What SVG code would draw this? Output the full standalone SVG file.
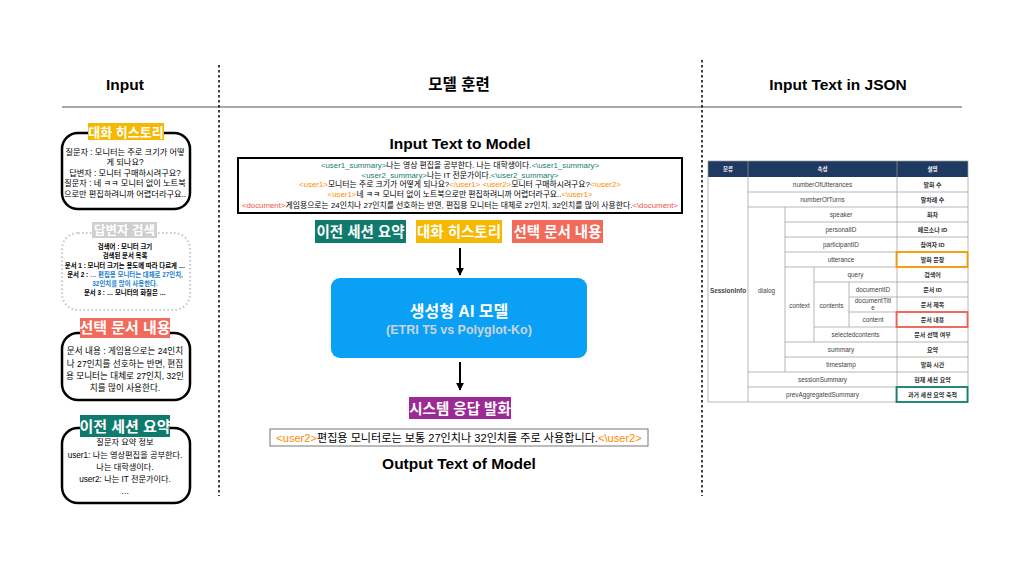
<svg xmlns="http://www.w3.org/2000/svg" width="1024" height="576" viewBox="0 0 1024 576">
<style>
text{font-family:"Liberation Sans","Noto Sans CJK KR",sans-serif;}
.hd{font-size:15.5px;font-weight:bold;fill:#000;text-anchor:middle;}
.lbl{font-weight:bold;fill:#fff;text-anchor:middle;}
.box{fill:#fff;stroke:#000;stroke-width:2.5;}
.t1{font-size:8.2px;fill:#000;text-anchor:middle;}
.t2{font-size:6.4px;font-weight:bold;fill:#000;text-anchor:middle;}
.t3{font-size:8.6px;fill:#000;text-anchor:middle;}
.in{font-size:7.85px;fill:#000;text-anchor:middle;}
.tl{fill:#12806E;}
.or{fill:#FF8C00;}
.rd{fill:#F0533F;}
.tb{font-size:6.4px;fill:#444;text-anchor:middle;}
.tk{font-size:6px;fill:#333;font-weight:bold;text-anchor:middle;}
.th{font-size:5.5px;fill:#fff;font-weight:bold;text-anchor:middle;}
.gl{stroke:#9a9a9a;stroke-width:0.7;fill:none;}
.dl{stroke:#000;stroke-width:1.5;stroke-dasharray:2.5 2.5;}
.ar{stroke:#000;stroke-width:2;marker-end:url(#ah);}
</style>
<defs>
<marker id="ah" viewBox="0 0 10 10" refX="9" refY="5" markerWidth="4" markerHeight="4" orient="auto"><path d="M0,0 L10,5 L0,10 z" fill="#000"/></marker>
</defs>
<rect width="1024" height="576" fill="#fff"/>

<g id="headers">
<text class="hd" x="125" y="90">Input</text>
<text class="hd" x="459" y="90">모델 훈련</text>
<text class="hd" x="838" y="90">Input Text in JSON</text>
<line x1="62" y1="107" x2="962" y2="107" stroke="#555" stroke-width="1"/>
<line class="dl" x1="219" y1="65" x2="219" y2="496"/>
<line class="dl" x1="702" y1="60" x2="702" y2="496"/>
</g>

<g id="left-history">
<rect class="box" x="62" y="133" width="128" height="76" rx="16"/>
<rect x="88" y="123" width="76" height="17" fill="#F6B800"/>
<text class="lbl" x="126" y="136.5" font-size="13">대화 히스토리</text>
<text class="t1" x="125" y="155">질문자 : 모니터는 주로 크기가 어떻</text>
<text class="t1" x="125" y="165">게 되나요?</text>
<text class="t1" x="125" y="175.5">답변자 : 모니터 구매하시려구요?</text>
<text class="t1" x="125" y="186">질문자 : 네 ㅋㅋ 모니터 없이 노트북</text>
<text class="t1" x="125" y="196.5">으로만 편집하려니까 어렵더라구요..</text>
</g>

<g id="left-search">
<rect x="62" y="233" width="128" height="77" rx="16" fill="#fff" stroke="#c8c8c8" stroke-width="2.2" stroke-dasharray="1.5 2.5"/>
<rect x="92" y="222" width="65" height="16" fill="#CFCFCF"/>
<text class="lbl" x="124.5" y="235" font-size="12.5">답변자 검색</text>
<text class="t2" x="125" y="249">검색어 : 모니터 크기</text>
<text class="t2" x="125" y="258">검색된 문서 목록</text>
<text class="t2" x="125" y="267.5">문서 1 : 모니터 크기는 용도에 따라 다르게 …</text>
<text class="t2" x="125" y="276.5">문서 2 : <tspan fill="#1A7FD0">… 편집용 모니터는 대체로 27인치,</tspan></text>
<text class="t2" x="125" y="285.5" style="fill:#1A7FD0">32인치를 많이 사용한다.</text>
<text class="t2" x="125" y="295">문서 3 : … 모니터의 화질은 …</text>
</g>

<g id="left-document">
<rect class="box" x="62" y="333" width="128" height="67" rx="16"/>
<rect x="80" y="318" width="90" height="20" fill="#F26A5A"/>
<text class="lbl" x="125" y="333" font-size="15">선택 문서 내용</text>
<text class="t3" x="125" y="354">문서 내용 : 게임용으로는 24인치</text>
<text class="t3" x="125" y="366.5">나 27인치를 선호하는 반면, 편집</text>
<text class="t3" x="125" y="379">용 모니터는 대체로 27인치, 32인</text>
<text class="t3" x="125" y="391">치를 많이 사용한다.</text>
</g>

<g id="left-summary">
<rect class="box" x="62" y="428" width="128" height="75" rx="16"/>
<rect x="80" y="415" width="90" height="22" fill="#0F7B6C"/>
<text class="lbl" x="125" y="431.5" font-size="15">이전 세션 요약</text>
<text class="t1" x="125" y="445" font-size="9">질문자 요약 정보</text>
<text class="t1" x="125" y="458" font-size="9">user1: 나는 영상편집을 공부한다.</text>
<text class="t1" x="125" y="470" font-size="9">나는 대학생이다.</text>
<text class="t1" x="125" y="481.5" font-size="9">user2: 나는 IT 전문가이다.</text>
<text class="t1" x="125" y="494" font-size="9">…</text>
</g>

<g id="input-text">
<text class="hd" x="460" y="149" font-size="15">Input Text to Model</text>
<rect x="238" y="158" width="444" height="55" fill="#fff" stroke="#000" stroke-width="2"/>
<text class="in" x="460" y="167.5"><tspan class="tl">&lt;user1_summary&gt;</tspan>나는 영상 편집을 공부한다. 나는 대학생이다.<tspan class="tl">&lt;\user1_summary&gt;</tspan></text>
<text class="in" x="460" y="177.5"><tspan class="tl">&lt;user2_summary&gt;</tspan>나는 IT 전문가이다.<tspan class="tl">&lt;\user2_summary&gt;</tspan></text>
<text class="in" x="460" y="187"><tspan class="or">&lt;user1&gt;</tspan>모니터는 주로 크기가 어떻게 되나요?<tspan class="or">&lt;/user1&gt;</tspan> <tspan class="or">&lt;user2&gt;</tspan>모니터 구매하시려구요?<tspan class="or">&lt;\user2&gt;</tspan></text>
<text class="in" x="460" y="197"><tspan class="or">&lt;user1&gt;</tspan>네 ㅋㅋ 모니터 없이 노트북으로만 편집하려니까 어렵더라구요..<tspan class="or">&lt;\user1&gt;</tspan></text>
<text class="in" x="460" y="207.5"><tspan class="rd">&lt;document&gt;</tspan>게임용으로는 24인치나 27인치를 선호하는 반면, 편집용 모니터는 대체로 27인치, 32인치를 많이 사용한다.<tspan class="rd">&lt;\document&gt;</tspan></text>
</g>

<g id="input-tags">
<rect x="315" y="220" width="91" height="23" fill="#0F7B6C"/>
<text class="lbl" x="360.5" y="237" font-size="14.5">이전 세션 요약</text>
<rect x="416" y="220" width="86" height="23" fill="#F6B800"/>
<text class="lbl" x="459" y="237" font-size="14.5">대화 히스토리</text>
<rect x="512" y="220" width="91" height="23" fill="#F26A5A"/>
<text class="lbl" x="557.5" y="237" font-size="14.5">선택 문서 내용</text>
</g>

<g id="model">
<rect x="331" y="278" width="256" height="80" rx="9" fill="#0AA0F5"/>
<text class="lbl" x="459" y="317" font-size="16">생성형 AI 모델</text>
<text x="459" y="334" font-size="12.5" font-weight="bold" fill="#CBD5DE" text-anchor="middle">(ETRI T5 vs Polyglot-Ko)</text>
</g>

<g id="response">
<rect x="409" y="397" width="102" height="22" fill="#9B2A94"/>
<text class="lbl" x="460" y="413.5" font-size="14.5">시스템 응답 발화</text>
<rect x="270" y="429" width="378" height="17" fill="#fff" stroke="#777" stroke-width="1"/>
<text x="459" y="441.5" font-size="11.1" text-anchor="middle" fill="#000"><tspan class="or">&lt;user2&gt;</tspan>편집용 모니터로는 보통 27인치나 32인치를 주로 사용합니다.<tspan class="or">&lt;\user2&gt;</tspan></text>
<text class="hd" x="459" y="469">Output Text of Model</text>
</g>

<g id="connectors">
<line class="ar" x1="460" y1="248" x2="460" y2="275"/>
<line class="ar" x1="460" y1="362" x2="460" y2="390"/>
</g>

<g id="json-table">
<rect x="708" y="161" width="260" height="16" fill="#1F3A60"/>
<text class="th" x="728" y="171">분류</text>
<text class="th" x="822.5" y="171">속성</text>
<text class="th" x="932.5" y="171">설명</text>
<rect class="gl" x="708" y="161" width="260" height="241"/>
<line class="gl" x1="748" y1="161" x2="748" y2="402"/>
<line class="gl" x1="897" y1="161" x2="897" y2="402"/>
<line class="gl" x1="785" y1="207" x2="785" y2="372"/>
<line class="gl" x1="814" y1="267" x2="814" y2="342"/>
<line class="gl" x1="849" y1="282" x2="849" y2="327"/>
<path class="gl" d="M748,192H968M748,207H968M785,222H968M785,237H968M785,252H968M785,267H968M814,282H968M849,297H968M849,312H968M814,327H968M785,342H968M785,357H968M748,372H968M748,387H968"/>
<text class="tb" x="728" y="292.5" font-weight="bold" font-size="5.8">SessionInfo</text>
<text class="tb" x="766.5" y="292.5">dialog</text>
<text class="tb" x="799.5" y="307.5">context</text>
<text class="tb" x="831.5" y="307.5">contents</text>
<text class="tb" x="822.5" y="187">numberOfUtterances</text>
<text class="tb" x="822.5" y="202">numberOfTurns</text>
<text class="tb" x="841" y="217">speaker</text>
<text class="tb" x="841" y="232">personalID</text>
<text class="tb" x="841" y="247">participantID</text>
<text class="tb" x="841" y="262">utterance</text>
<text class="tb" x="855.5" y="277">query</text>
<text class="tb" x="873" y="292">documentID</text>
<text class="tb" x="873" y="303">documentTitl</text>
<text class="tb" x="873" y="310">e</text>
<text class="tb" x="873" y="322">content</text>
<text class="tb" x="855.5" y="337">selectedcontents</text>
<text class="tb" x="841" y="352">summary</text>
<text class="tb" x="841" y="367">timestamp</text>
<text class="tb" x="822.5" y="382">sessionSummary</text>
<text class="tb" x="822.5" y="397">prevAggregatedSummary</text>
<text class="tk" x="932.5" y="187">발화 수</text>
<text class="tk" x="932.5" y="202">말차례 수</text>
<text class="tk" x="932.5" y="217">화자</text>
<text class="tk" x="932.5" y="232">페르소나 ID</text>
<text class="tk" x="932.5" y="247">참여자 ID</text>
<text class="tk" x="932.5" y="262">발화 문장</text>
<text class="tk" x="932.5" y="277">검색어</text>
<text class="tk" x="932.5" y="292">문서 ID</text>
<text class="tk" x="932.5" y="307">문서 제목</text>
<text class="tk" x="932.5" y="322">문서 내용</text>
<text class="tk" x="932.5" y="337">문서 선택 여부</text>
<text class="tk" x="932.5" y="352">요약</text>
<text class="tk" x="932.5" y="367">발화 시간</text>
<text class="tk" x="932.5" y="382">현재 세션 요약</text>
<text class="tk" x="932.5" y="397">과거 세션 요약 축적</text>
<rect x="896.5" y="252" width="71" height="15" fill="none" stroke="#F59A00" stroke-width="1.8"/>
<rect x="896.5" y="312" width="71" height="15" fill="none" stroke="#F0604F" stroke-width="1.8"/>
<rect x="896.5" y="387" width="71" height="15" fill="none" stroke="#137F6A" stroke-width="1.8"/>
</g>
</svg>
